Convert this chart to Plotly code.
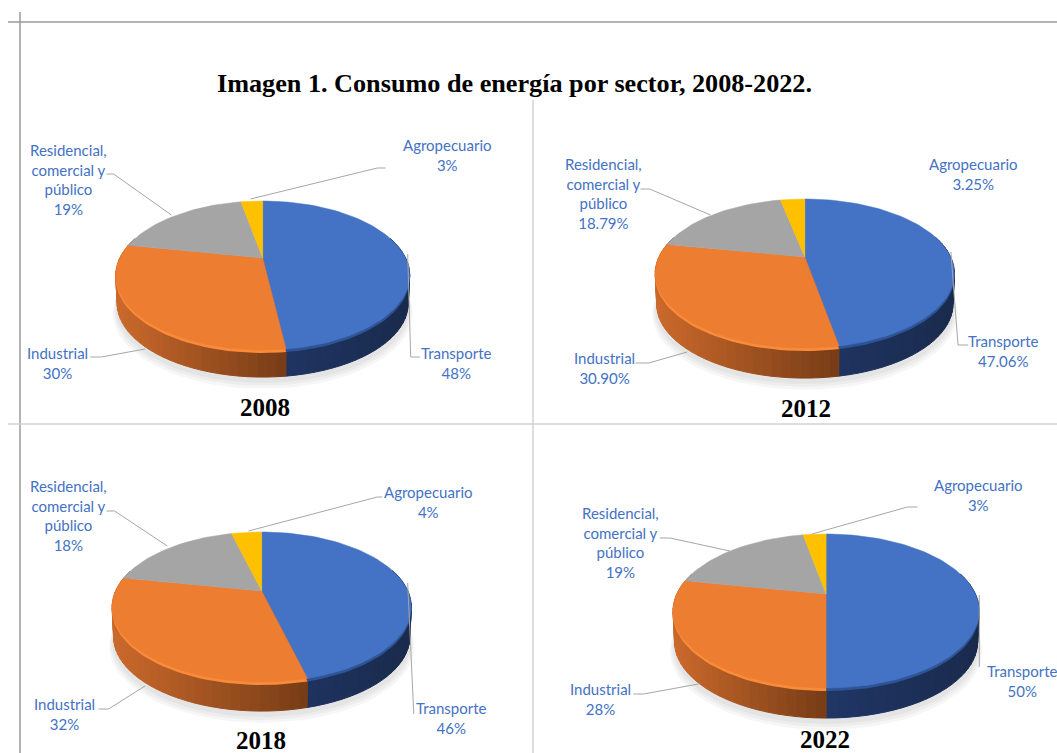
import math
import plotly.graph_objects as go

# ---------- data ----------
years = ["2008", "2012", "2018", "2022"]
categories = ["Transporte", "Industrial", "Residencial, comercial y público", "Agropecuario"]
values_2008 = [48, 30, 19, 3]
values_2012 = [47.06, 30.90, 18.79, 3.25]
values_2018 = [46, 32, 18, 4]
values_2022 = [50, 28, 19, 3]
value_labels_2008 = ["48%", "30%", "19%", "3%"]
value_labels_2012 = ["47.06%", "30.90%", "18.79%", "3.25%"]
value_labels_2018 = ["46%", "32%", "18%", "4%"]
value_labels_2022 = ["50%", "28%", "19%", "3%"]
title_text = "Imagen 1. Consumo de energía por sector, 2008-2022."

# ---------- layout and style ----------
W, H = 1057, 753
LABEL_LINES = ["Transporte", "Industrial", "Residencial,<br>comercial y<br>público", "Agropecuario"]
TOP_COLORS = ["#4472C4", "#ED7D31", "#A5A5A5", "#FFC000"]
BEVEL_COLORS = ["#2E5496", "#F98B3A", "#A5A5A5", "#FFC000"]
SIDE_LEFT = [(32, 54, 102), (203, 105, 43), (120, 120, 120), (190, 145, 0)]
SIDE_RIGHT = [(25, 42, 76), (118, 60, 22), (90, 90, 90), (150, 110, 0)]
TEXT_BLUE = "#4472C4"
LEADER = "#A6A6A6"

# apex x, apex y, half width, distance apex-to-back, apex-to-front, thickness
PIES = {
    "2008": dict(vals=values_2008, labs=value_labels_2008, ax=262.7, ay=258, rx=147, top=57, bot=92, d=28,
                 year=(264.7, 407),
                 pos=[(456.4, 362.5), (57.8, 362.5), (68, 179), (447.3, 155)],
                 lead=[[(407.7, 254), (410.7, 357), (419.9, 357)], [(90.3, 357), (101.4, 357), (145, 349)],
                       [(106.5, 174), (113.6, 174), (171.4, 215)], [(385.4, 168), (377.3, 168), (250.5, 199)]]),
    "2012": dict(vals=values_2012, labs=value_labels_2012, ax=804.8, ay=257, rx=149.6, top=58, bot=91, d=31,
                 year=(805.9, 408),
                 pos=[(1003.6, 350.5), (604, 368), (603, 193.5), (973.2, 174)],
                 lead=[[(950.9, 252), (958, 345), (968.1, 345)], [(635.5, 363), (648.7, 363), (687.2, 352)],
                       [(640.5, 189), (649.7, 189), (710.5, 215)]]),
    "2018": dict(vals=values_2018, labs=value_labels_2018, ax=261.7, ay=591, rx=149.6, top=59, bot=91, d=30,
                 year=(260.6, 740),
                 pos=[(451.3, 718), (64.9, 714), (68, 515.5), (428, 502)],
                 lead=[[(407.7, 583), (413.8, 714)], [(98.4, 709), (108.5, 709), (145, 686)],
                       [(106.5, 511), (114.6, 511), (167.3, 546)], [(382.4, 497), (377.3, 497), (248.5, 531)]]),
    "2022": dict(vals=values_2022, labs=value_labels_2022, ax=826.1, ay=594, rx=153.1, top=60, bot=94, d=31,
                 year=(825.1, 739),
                 pos=[(1022.9, 680.5), (600, 699), (620.3, 542.5), (978.3, 494.5)],
                 lead=[[(979.3, 595), (979.3, 667)], [(633.4, 694), (643.6, 694), (698.4, 684)],
                       [(659.8, 538), (670, 538), (729.8, 551)], [(917.4, 507), (907.3, 507), (812, 534)]]),
}


def projector(p):
    """Perspective view of a flat disc: angle (clockwise from 12 o'clock) -> page point."""
    k = (p["bot"] - p["top"]) / (p["bot"] + p["top"])
    sy = 2 * p["top"] * p["bot"] / (p["top"] + p["bot"])
    sx = p["rx"] * math.sqrt(1 - k * k)

    def f(theta, dy=0.0, grow=1.0):
        u, v = math.sin(theta), math.cos(theta)
        w = 1 + k * v
        return p["ax"] + grow * sx * u / w, p["ay"] - grow * sy * v / w + dy
    return f


def mix(a, b, t):
    t = max(0.0, min(1.0, t))
    return "rgb(%d,%d,%d)" % tuple(round(a[i] + (b[i] - a[i]) * t) for i in range(3))


def poly(fig, pts, color, name=None, text=None, line=0.0):
    fig.add_trace(go.Scatter(
        x=[q[0] for q in pts], y=[q[1] for q in pts], mode="lines", fill="toself",
        fillcolor=color, line=dict(color=color, width=line), showlegend=False,
        name=name or "", text=text, hoverinfo="text" if text else "skip"))


fig = go.Figure()

for year in years:
    p = PIES[year]
    f = projector(p)
    total = sum(p["vals"])
    edges = [0.0]
    for v in p["vals"]:
        edges.append(edges[-1] + v / total * 2 * math.pi)

    # soft shadow under the disc
    ring = [i / 90 * 2 * math.pi for i in range(91)]
    for extra, grow in [(9, 1.02), (7, 1.01), (5, 1.0)]:
        poly(fig, [f(t, p["d"] + extra, grow) for t in ring], "rgba(0,0,0,0.035)")

    # rim, shaded band by band
    lo_x, hi_x = {}, {}
    for i in range(4):
        xs = [f(edges[i] + (edges[i + 1] - edges[i]) * j / 40)[0] for j in range(41)]
        lo_x[i], hi_x[i] = min(xs), max(xs)
        n = max(2, int((edges[i + 1] - edges[i]) / math.radians(3)))
        for j in range(n):
            t0 = edges[i] + (edges[i + 1] - edges[i]) * j / n
            t1 = edges[i] + (edges[i + 1] - edges[i]) * (j + 1) / n
            if math.cos((t0 + t1) / 2) > 0.3:
                continue
            a, b = f(t0), f(t1)
            a2, b2 = f(t0, p["d"], 0.99), f(t1, p["d"], 0.99)
            shade = ((a[0] + b[0]) / 2 - lo_x[i]) / max(1.0, hi_x[i] - lo_x[i])
            poly(fig, [a, b, b2, a2, a], mix(SIDE_LEFT[i], SIDE_RIGHT[i], shade), line=1.0)

    # bevel crescent, then flat top of each slice
    for i in range(4):
        steps = max(3, int((edges[i + 1] - edges[i]) / math.radians(2)))
        arc = [edges[i] + (edges[i + 1] - edges[i]) * j / steps for j in range(steps + 1)]
        if i < 2:
            poly(fig, [f(0, 3, 0)] + [f(t, 3) for t in arc] + [f(0, 3, 0)], BEVEL_COLORS[i])
    for i in range(4):
        steps = max(3, int((edges[i + 1] - edges[i]) / math.radians(2)))
        arc = [edges[i] + (edges[i + 1] - edges[i]) * j / steps for j in range(steps + 1)]
        poly(fig, [f(0, 0, 0)] + [f(t) for t in arc] + [f(0, 0, 0)], TOP_COLORS[i],
             name=categories[i], text="%s %s: %s" % (year, categories[i], p["labs"][i]), line=0.5)

    # leader lines
    for seg in p["lead"]:
        fig.add_trace(go.Scatter(x=[q[0] for q in seg], y=[q[1] for q in seg], mode="lines",
                                 line=dict(color=LEADER, width=1), showlegend=False, hoverinfo="skip"))

    # labels
    for i in range(4):
        fig.add_annotation(x=p["pos"][i][0], y=p["pos"][i][1], xref="x", yref="y",
                           text=LABEL_LINES[i] + "<br>" + p["labs"][i], showarrow=False,
                           xanchor="center", yanchor="middle", align="center",
                           font=dict(family="Lato", size=15, color=TEXT_BLUE))
    fig.add_annotation(x=p["year"][0], y=p["year"][1], xref="x", yref="y", text="<b>%s</b>" % year,
                       showarrow=False, xanchor="center", yanchor="middle",
                       font=dict(family="Liberation Serif", size=25, color="#000000"))

fig.add_annotation(x=514.5, y=83.5, xref="x", yref="y", text="<b>%s</b>" % title_text, showarrow=False,
                   xanchor="center", yanchor="middle",
                   font=dict(family="Liberation Serif", size=26.2, color="#000000"))

# table rules
rules = [(8, 22, W, 22, "#9A9A9A", 1.5), (20, 12, 20, H, "#9A9A9A", 1.5),
         (8, 424, W, 424, "#D2D2D2", 1.5), (533, 100, 533, H, "#D2D2D2", 1.5)]
for x0, y0, x1, y1, c, w in rules:
    fig.add_shape(type="line", x0=x0, y0=y0, x1=x1, y1=y1, xref="x", yref="y", line=dict(color=c, width=w), layer="below")

fig.update_layout(
    width=W, height=H, margin=dict(l=0, r=0, t=0, b=0), showlegend=False,
    paper_bgcolor="white", plot_bgcolor="white",
    xaxis=dict(range=[0, W], visible=False, fixedrange=True),
    yaxis=dict(range=[H, 0], visible=False, fixedrange=True),
)
fig.write_html("out.html", config=dict(displayModeBar=False),
               post_script="document.body.style.margin='0';document.documentElement.style.overflow='hidden';")
